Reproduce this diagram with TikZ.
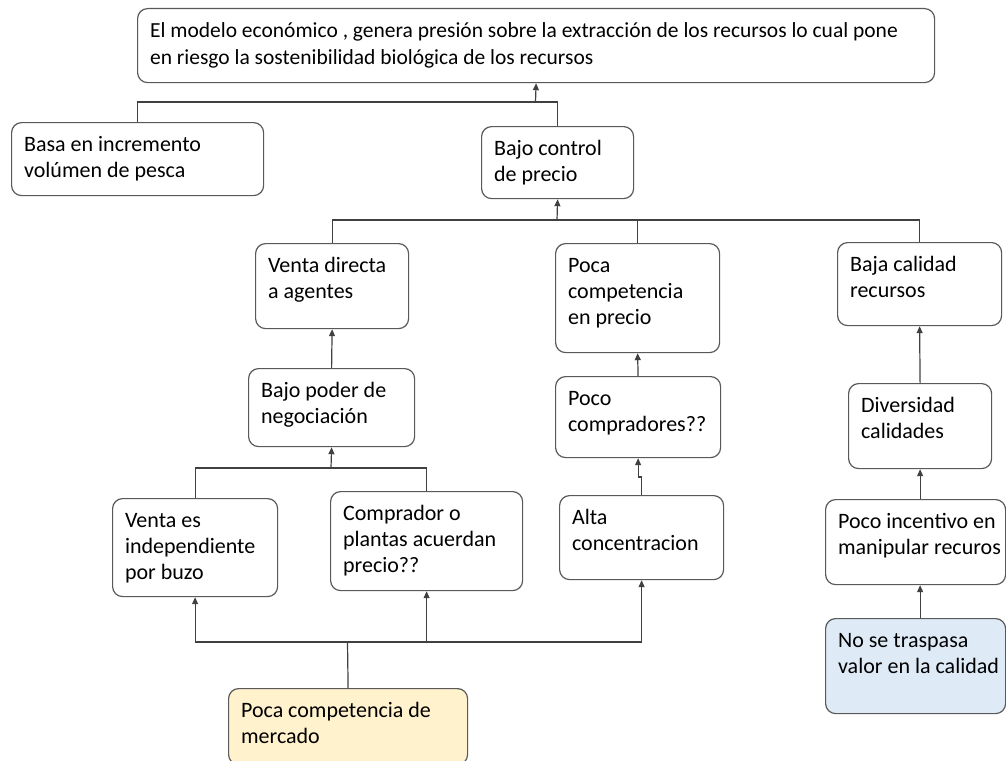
\documentclass[tikz,border=0pt]{standalone}
\usepackage{fontspec}
\setmainfont{Carlito}
\usetikzlibrary{arrows.meta}
\definecolor{linec}{HTML}{404040}
\definecolor{boxc}{HTML}{595959}
\definecolor{yel}{HTML}{FFF2CC}
\definecolor{blu}{HTML}{DEEBF7}
\newcommand\bxt[3]{\parbox[t][#2pt][t]{#1pt}{\raggedright\leftskip=12.5pt\rule{0pt}{29pt}#3}}
\begin{document}
\begin{tikzpicture}[x=1pt,y=-1pt,
  box/.style={draw=boxc, line width=1.2pt, rounded corners=10pt, inner sep=0pt, anchor=north west, fill=white, font=\fontsize{22}{26}\selectfont},
  conn/.style={draw=linec, line width=1.2pt},
  arr/.style={conn, -{Triangle[width=6pt,length=7pt]}}]
\useasboundingbox (0,0) rectangle (1006,760);
\node[box, font=\fontsize{21.5}{26.5}\selectfont] (top) at (137,8) {\bxt{797}{74}{El modelo económico , genera presión sobre la extracción de los recursos lo cual pone\\en riesgo la sostenibilidad biológica de los recursos}};
\node[box] (basa) at (11,122) {\bxt{252}{73}{Basa en incremento\\volúmen de pesca}};
\node[box] (bajoc) at (481,126) {\bxt{152}{72}{Bajo control\\de precio}};
\node[box] (ventad) at (255,243) {\bxt{153}{85}{Venta directa\\a agentes}};
\node[box] (poder) at (248,368) {\bxt{166}{78}{Bajo poder de\\negociación}};
\node[box] (pocac) at (555,243) {\bxt{164}{109}{Poca\\competencia\\en precio}};
\node[box] (compr) at (555,376) {\bxt{165}{81}{Poco\\compradores??}};
\node[box] (baja) at (837,242) {\bxt{164}{83}{Baja calidad\\recursos}};
\node[box] (divers) at (848,383) {\bxt{143}{85}{Diversidad\\calidades}};
\node[box] (ventaes) at (112,498) {\bxt{165}{98}{Venta es\\independiente\\por buzo}};
\node[box] (comprador) at (330,491) {\bxt{192}{99}{Comprador o\\plantas acuerdan\\precio??}};
\node[box] (alta) at (559,495) {\bxt{164}{84}{Alta\\concentracion}};
\node[box] (incent) at (825,499) {\bxt{180}{85}{Poco incentivo en\\manipular recuros}};
\node[box, fill=blu] (nose) at (825,618) {\bxt{180}{95}{No se traspasa\\valor en la calidad}};
\node[box, fill=yel] (mercado) at (228,688) {\bxt{239}{76}{Poca competencia de\\mercado}};
% connectors
\coordinate (j1) at (535.5,102);
\draw[conn] (basa.north) |- (j1);
\draw[conn] (bajoc.north) |- (j1);
\draw[arr] (j1) -- (top.south);
\coordinate (j2) at (557,220);
\draw[arr] (j2) -- (bajoc.south);
\draw[conn] (ventad.north) |- (j2) -| (baja.north);
\draw[conn] (pocac.north) -- (pocac.north |- j2);
\draw[arr] (poder.north) -- (ventad.south);
\draw[arr] (compr.north) -- (pocac.south);
\coordinate (j3) at (331,468);
\draw[conn] (ventaes.north) |- (j3) -| (comprador.north);
\draw[arr] (j3) -- (poder.south);
\draw[arr] (alta.north) -- ++(0,-18) -| (compr.south);
\coordinate (j4) at (347.5,642);
\draw[conn] (mercado.north) -- (j4);
\draw[arr] (j4) -| (ventaes.south);
\draw[arr] (j4) -| (comprador.south);
\draw[arr] (j4) -| (alta.south);
\draw[arr] (divers.north) -- (baja.south);
\draw[arr] (incent.north -| divers.south) -- (divers.south);
\draw[arr] (nose.north -| divers.south) -- (incent.south -| divers.south);
\end{tikzpicture}
\end{document}
